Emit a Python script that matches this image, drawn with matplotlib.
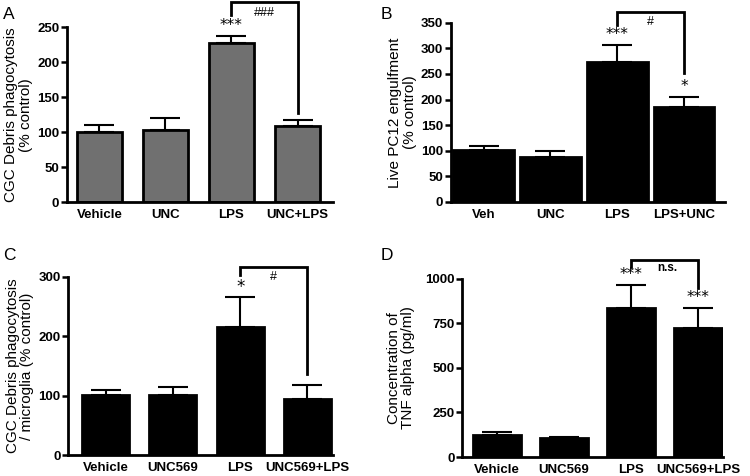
import matplotlib
matplotlib.use("Agg")
import matplotlib.pyplot as plt
import numpy as np

plt.rcParams['font.family'] = ['Liberation Sans', 'DejaVu Sans']

# panel A
a_labels = ["Vehicle", "UNC", "LPS", "UNC+LPS"]
a_means = [100, 103, 228, 109]
a_sem = [11, 17, 10, 9]
# panel B
b_labels = ["Veh", "UNC", "LPS", "LPS+UNC"]
b_means = [101, 88, 273, 186]
b_sem = [8, 11, 34, 19]
# panel C
c_labels = ["Vehicle", "UNC569", "LPS", "UNC569+LPS"]
c_means = [101, 101, 216, 95]
c_sem = [9, 14, 50, 24]
# panel D
d_labels = ["Vehicle", "UNC569", "LPS", "UNC569+LPS"]
d_means = [121, 104, 837, 722]
d_sem = [17, 9, 128, 114]

fig = plt.figure(figsize=(7.5, 4.76), dpi=100)


def panel(rect, labels, means, sem, color, width, ylim, yticks, ylabel, xlim, lpad=3):
    ax = fig.add_axes(rect)
    x = np.arange(len(labels))
    ax.bar(x, means, width=width, color=color, edgecolor='black', linewidth=2, zorder=2)
    ax.errorbar(x, means, yerr=[np.zeros(len(sem)), sem], fmt='none', ecolor='black',
                elinewidth=1.5, capsize=11, capthick=1.5, zorder=1)
    ax.set_xlim(*xlim)
    ax.set_ylim(*ylim)
    ax.set_yticks(yticks)
    ax.set_xticks(x)
    ax.set_xticklabels(labels, fontsize=9.5, fontweight='bold')
    ax.tick_params(axis='x', length=0, pad=5)
    ax.tick_params(axis='y', length=4, width=1.8, labelsize=9.5, pad=1.5)
    for lab in ax.get_yticklabels():
        lab.set_fontweight('bold')
    for s in ['top', 'right']:
        ax.spines[s].set_visible(False)
    for s in ['left', 'bottom']:
        ax.spines[s].set_linewidth(2)
    ax.set_ylabel(ylabel, fontsize=11, linespacing=1.05, labelpad=lpad)
    return ax


def bracket(ax, x1, x2, top, y1, y2, text, tx, ty, fs=9, weight='normal'):
    ax.plot([x1, x1, x2, x2], [y1, top, top, y2], color='black', lw=2,
            clip_on=False, solid_joinstyle='miter')
    ax.text(tx, ty, text, ha='center', va='center', fontsize=fs, clip_on=False,
            fontweight=weight)


def stars(ax, x, y, s, fs=11):
    ax.text(x, y, s, ha='center', va='center', fontsize=fs, family='DejaVu Sans',
            clip_on=False)


axA = panel([0.0893, 0.575, 0.355, 0.3676], a_labels, a_means, a_sem, '#707070', 0.68,
            (0, 250), [0, 50, 100, 150, 200, 250],
            "CGC Debris phagocytosis\n(% control)", (-0.49, 3.54))
bracket(axA, 2, 3, 286, 268, 127, "###", 2.5, 270)
stars(axA, 2, 252, "***")
fig.text(0.004, 0.985, "A", fontsize=12.5, va='top')

axB = panel([0.601, 0.576, 0.365, 0.376], b_labels, b_means, b_sem, 'black', 0.9,
            (0, 350), [0, 50, 100, 150, 200, 250, 300, 350],
            "Live PC12 engulfment\n(% control)", (-0.49, 3.6))
bracket(axB, 2, 3, 372, 345, 252, "#", 2.5, 352)
stars(axB, 2, 327, "***")
stars(axB, 3, 226, "*")
fig.text(0.507, 0.985, "B", fontsize=12.5, va='top')

axC = panel([0.091, 0.0435, 0.353, 0.3746], c_labels, c_means, c_sem, 'black', 0.70,
            (0, 300), [0, 100, 200, 300],
            "CGC Debris phagocytosis\n/ microglia (% control)", (-0.555, 3.38))
bracket(axC, 2, 3, 317, 303, 137, "#", 2.5, 300)
stars(axC, 2, 283, "*", fs=12)
fig.text(0.004, 0.478, "C", fontsize=12.5, va='top')

axD = panel([0.6164, 0.0399, 0.348, 0.3746], d_labels, d_means, d_sem, 'black', 0.71,
            (0, 1000), [0, 250, 500, 750, 1000],
            "Concentration of\nTNF alpha (pg/ml)", (-0.52, 3.38), lpad=7)
bracket(axD, 2, 3, 1105, 1067, 948, "n.s.", 2.55, 1062, fs=8.5, weight='bold')
stars(axD, 2, 1024, "***")
stars(axD, 3, 897, "***")
fig.text(0.507, 0.478, "D", fontsize=12.5, va='top')

fig.savefig("out.png", dpi=100)
